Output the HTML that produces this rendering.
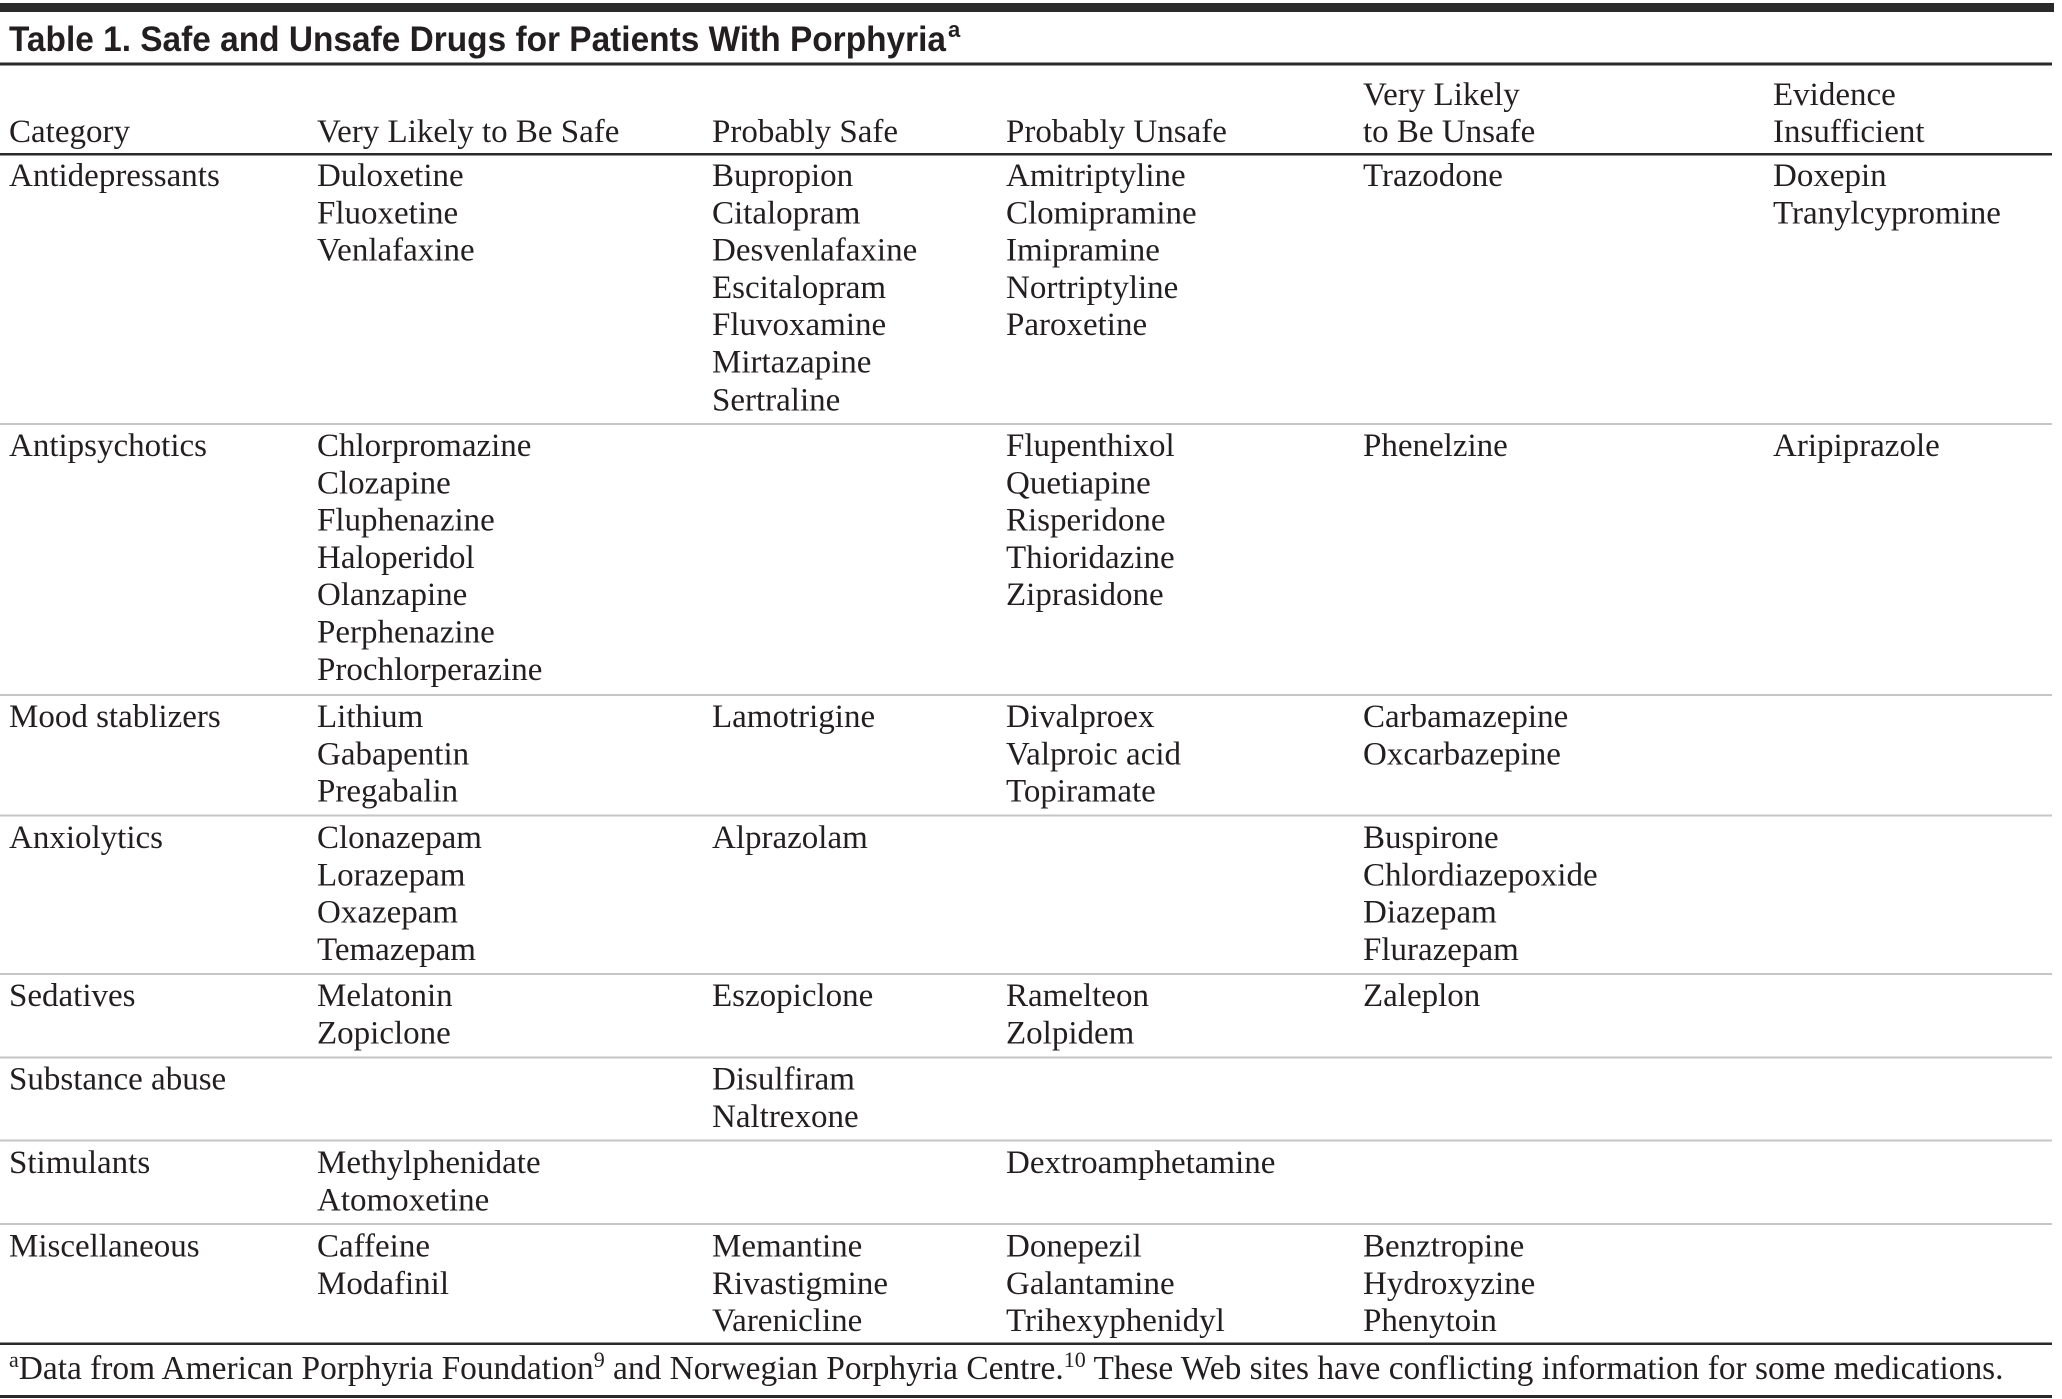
<!DOCTYPE html>
<html>
<head>
<meta charset="utf-8">
<style>
  html, body { margin: 0; padding: 0; background: #ffffff; }
  body { width: 2062px; height: 1399px; overflow: hidden; }
  svg { display: block; }
  .t { font-family: "Liberation Serif", "DejaVu Serif", serif; font-size: 33px; fill: #231f20; }
  .ti { font-family: "Liberation Sans", "DejaVu Sans", sans-serif; font-size: 35.5px; font-weight: bold; fill: #231f20; }
</style>
</head>
<body>
<svg width="2062" height="1399" viewBox="0 0 2062 1399" xmlns="http://www.w3.org/2000/svg">
  <!-- top bar -->
  <rect x="0" y="3" width="2054" height="9" fill="#2a2a2a"/>
  <!-- title -->
  <text class="ti" x="9" y="51" textLength="937" lengthAdjust="spacingAndGlyphs">Table 1. Safe and Unsafe Drugs for Patients With Porphyria</text>
  <text class="ti" x="948" y="37" style="font-size:22px">a</text>
  <rect x="0" y="62.5" width="2052" height="3" fill="#2a2a2a"/>

  <!-- header -->
  <g class="t">
    <text x="9" y="142">Category</text>
    <text x="317" y="142">Very Likely to Be Safe</text>
    <text x="712" y="142">Probably Safe</text>
    <text x="1006" y="142">Probably Unsafe</text>
    <text x="1363" y="105">Very Likely</text>
    <text x="1363" y="142">to Be Unsafe</text>
    <text x="1773" y="105">Evidence</text>
    <text x="1773" y="142">Insufficient</text>
  </g>
  <rect x="0" y="153" width="2052" height="2.5" fill="#2a2a2a"/>

  <!-- separators -->
  <g fill="#c6c6c6">
    <rect x="0" y="423" width="2052" height="2"/>
    <rect x="0" y="694" width="2052" height="2"/>
    <rect x="0" y="814.5" width="2052" height="2"/>
    <rect x="0" y="973" width="2052" height="2"/>
    <rect x="0" y="1056.5" width="2052" height="2"/>
    <rect x="0" y="1139.5" width="2052" height="2"/>
    <rect x="0" y="1223" width="2052" height="2"/>
  </g>
  <rect x="0" y="1342.5" width="2052" height="2.5" fill="#2a2a2a"/>

  <g class="t">
    <!-- S1 Antidepressants -->
    <text x="9" y="186">Antidepressants</text>
    <text x="317" y="186">Duloxetine</text>
    <text x="317" y="223.3">Fluoxetine</text>
    <text x="317" y="260.6">Venlafaxine</text>
    <text x="712" y="186">Bupropion</text>
    <text x="712" y="223.3">Citalopram</text>
    <text x="712" y="260.6">Desvenlafaxine</text>
    <text x="712" y="297.9">Escitalopram</text>
    <text x="712" y="335.2">Fluvoxamine</text>
    <text x="712" y="372.5">Mirtazapine</text>
    <text x="712" y="410.5">Sertraline</text>
    <text x="1006" y="186">Amitriptyline</text>
    <text x="1006" y="223.3">Clomipramine</text>
    <text x="1006" y="260.6">Imipramine</text>
    <text x="1006" y="297.9">Nortriptyline</text>
    <text x="1006" y="335.2">Paroxetine</text>
    <text x="1363" y="186">Trazodone</text>
    <text x="1773" y="186">Doxepin</text>
    <text x="1773" y="223.3">Tranylcypromine</text>

    <!-- S2 Antipsychotics -->
    <text x="9" y="456">Antipsychotics</text>
    <text x="317" y="456">Chlorpromazine</text>
    <text x="317" y="493.3">Clozapine</text>
    <text x="317" y="530.6">Fluphenazine</text>
    <text x="317" y="567.9">Haloperidol</text>
    <text x="317" y="605.2">Olanzapine</text>
    <text x="317" y="642.5">Perphenazine</text>
    <text x="317" y="679.8">Prochlorperazine</text>
    <text x="1006" y="456">Flupenthixol</text>
    <text x="1006" y="493.3">Quetiapine</text>
    <text x="1006" y="530.6">Risperidone</text>
    <text x="1006" y="567.9">Thioridazine</text>
    <text x="1006" y="605.2">Ziprasidone</text>
    <text x="1363" y="456">Phenelzine</text>
    <text x="1773" y="456">Aripiprazole</text>

    <!-- S3 Mood stablizers -->
    <text x="9" y="727">Mood stablizers</text>
    <text x="317" y="727">Lithium</text>
    <text x="317" y="764.3">Gabapentin</text>
    <text x="317" y="801.6">Pregabalin</text>
    <text x="712" y="727">Lamotrigine</text>
    <text x="1006" y="727">Divalproex</text>
    <text x="1006" y="764.3">Valproic acid</text>
    <text x="1006" y="801.6">Topiramate</text>
    <text x="1363" y="727">Carbamazepine</text>
    <text x="1363" y="764.3">Oxcarbazepine</text>

    <!-- S4 Anxiolytics -->
    <text x="9" y="848">Anxiolytics</text>
    <text x="317" y="848">Clonazepam</text>
    <text x="317" y="885.3">Lorazepam</text>
    <text x="317" y="922.6">Oxazepam</text>
    <text x="317" y="959.9">Temazepam</text>
    <text x="712" y="848">Alprazolam</text>
    <text x="1363" y="848">Buspirone</text>
    <text x="1363" y="885.3">Chlordiazepoxide</text>
    <text x="1363" y="922.6">Diazepam</text>
    <text x="1363" y="959.9">Flurazepam</text>

    <!-- S5 Sedatives -->
    <text x="9" y="1006">Sedatives</text>
    <text x="317" y="1006">Melatonin</text>
    <text x="317" y="1043.3">Zopiclone</text>
    <text x="712" y="1006">Eszopiclone</text>
    <text x="1006" y="1006">Ramelteon</text>
    <text x="1006" y="1043.3">Zolpidem</text>
    <text x="1363" y="1006">Zaleplon</text>

    <!-- S6 Substance abuse -->
    <text x="9" y="1089.5">Substance abuse</text>
    <text x="712" y="1089.5">Disulfiram</text>
    <text x="712" y="1126.8">Naltrexone</text>

    <!-- S7 Stimulants -->
    <text x="9" y="1173">Stimulants</text>
    <text x="317" y="1173">Methylphenidate</text>
    <text x="317" y="1210.3">Atomoxetine</text>
    <text x="1006" y="1173">Dextroamphetamine</text>

    <!-- S8 Miscellaneous -->
    <text x="9" y="1256.5">Miscellaneous</text>
    <text x="317" y="1256.5">Caffeine</text>
    <text x="317" y="1293.8">Modafinil</text>
    <text x="712" y="1256.5">Memantine</text>
    <text x="712" y="1293.8">Rivastigmine</text>
    <text x="712" y="1331.1">Varenicline</text>
    <text x="1006" y="1256.5">Donepezil</text>
    <text x="1006" y="1293.8">Galantamine</text>
    <text x="1006" y="1331.1">Trihexyphenidyl</text>
    <text x="1363" y="1256.5">Benztropine</text>
    <text x="1363" y="1293.8">Hydroxyzine</text>
    <text x="1363" y="1331.1">Phenytoin</text>

    <!-- footnote -->
    <text x="9" y="1379" style="font-size:33.4px"><tspan font-size="22" dy="-12">a</tspan><tspan dy="12">Data from American Porphyria Foundation</tspan><tspan font-size="22" dy="-12">9</tspan><tspan dy="12"> and Norwegian Porphyria Centre.</tspan><tspan font-size="22" dy="-12">10</tspan><tspan dy="12"> These Web sites have conflicting information for some medications.</tspan></text>
  </g>
  <rect x="0" y="1395" width="2052" height="3" fill="#2a2a2a"/>
</svg>
</body>
</html>
